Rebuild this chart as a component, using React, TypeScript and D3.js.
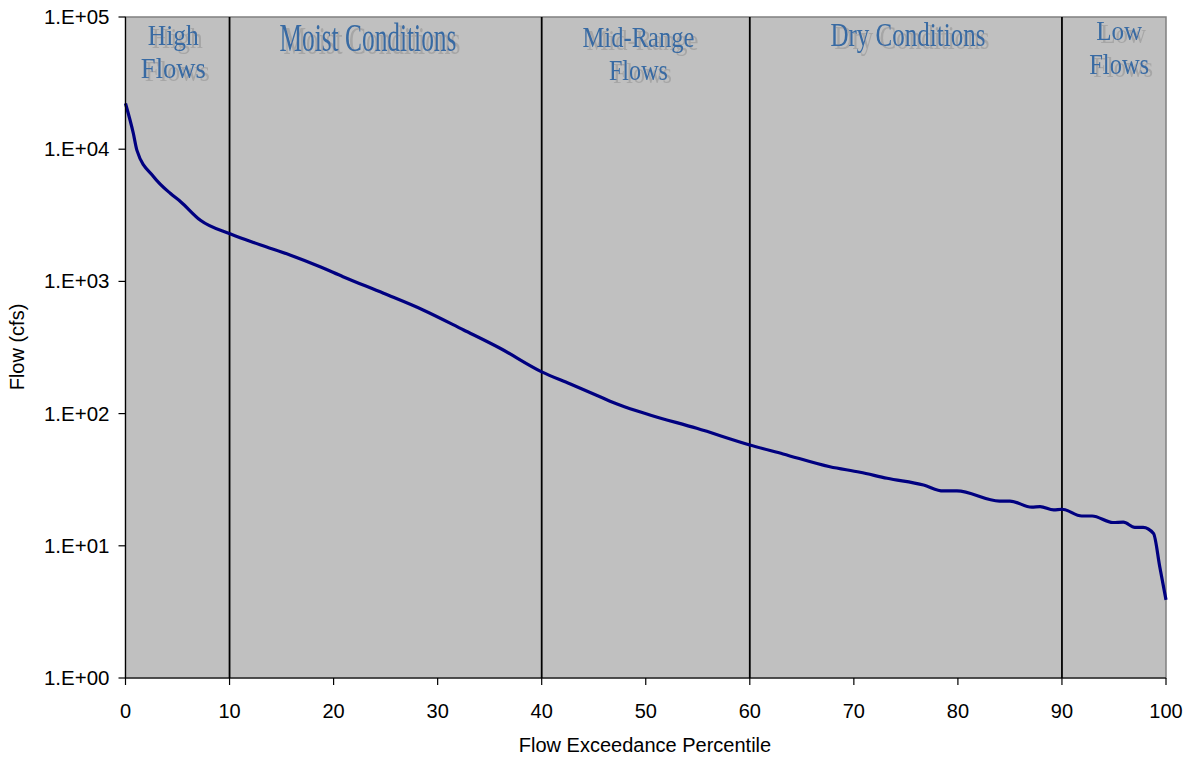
import React from "react";
import * as d3 from "d3";

// Flow duration curve data (percentile, flow in cfs)
const percentiles = [0, 0.75, 1.1, 2.7, 4.3, 5.3, 7.2, 10.1, 13, 15.8, 18.7, 20.9, 24.8, 28.6, 32.5, 36, 40, 42.7, 45.6, 47.5, 50.4, 54.9, 60, 63.2, 67.7, 70.6, 73.2, 76.7, 78.6, 79.9, 84, 85, 87.1, 87.9, 89.2, 90, 91.9, 92.9, 94.9, 95.9, 97, 97.8, 98.8, 99.4, 100];
const flows = [22200, 13200, 9800, 6200, 4640, 4010, 2900, 2280, 1885, 1585, 1290, 1086, 813, 608, 429, 312, 207, 168, 134, 116, 97.6, 77.4, 57.9, 49.5, 39.6, 36, 32.4, 28.8, 26, 26, 21.8, 21.8, 19.6, 19.8, 18.7, 18.9, 16.8, 16.8, 15.0, 15.1, 13.8, 13.8, 12.4, 6.95, 3.9];

const zoneBoundaries = [10, 40, 60, 90];
const xTicks = [0, 10, 20, 30, 40, 50, 60, 70, 80, 90, 100];
const yTicks = [1, 10, 100, 1000, 10000, 100000];
const yTickLabels = ["1.E+00", "1.E+01", "1.E+02", "1.E+03", "1.E+04", "1.E+05"];
const zoneNames = [["High", "Flows"], ["Moist Conditions"], ["Mid-Range", "Flows"], ["Dry Conditions"], ["Low", "Flows"]];

// layout for zone labels (pct center, baseline, font size, text width)
const zoneLayout = [
  [{ c: 4.6, b: 45, fs: 29.5, w: 51 }, { c: 4.6, b: 78, fs: 29.5, w: 65 }],
  [{ c: 23.3, b: 51, fs: 40, w: 177 }],
  [{ c: 49.3, b: 47, fs: 29, w: 112 }, { c: 49.3, b: 80, fs: 29, w: 59 }],
  [{ c: 75.2, b: 45.5, fs: 33, w: 155 }],
  [{ c: 95.5, b: 40, fs: 28, w: 46 }, { c: 95.5, b: 73.5, fs: 30, w: 60 }],
];

const W = 1192, H = 761;
const L = 125.5, R = 1166, T = 17, B = 678;

export default function App() {
  const x = d3.scaleLinear().domain([0, 100]).range([L, R]);
  const y = d3.scaleLog().domain([1, 100000]).range([B, T]);
  const pts: [number, number][] = percentiles.map((p, i) => [p, flows[i]]);
  const line = d3.line<[number, number]>().x(d => x(d[0])).y(d => y(d[1])).curve(d3.curveMonotoneX);
  const axisFont = "Liberation Sans, Arial, sans-serif";
  const serif = "Liberation Serif, Times New Roman, serif";
  return (
    <svg width={W} height={H} style={{ position: "absolute", left: 0, top: 0, background: "#fff" }}>
      <defs>
        <filter id="shadow" x="-20%" y="-30%" width="150%" height="180%">
          <feOffset in="SourceAlpha" dx={4} dy={3} result="off" />
          <feFlood floodColor="#a6a6a6" result="col" />
          <feComposite in="col" in2="off" operator="in" result="sh" />
          <feMerge>
            <feMergeNode in="sh" />
            <feMergeNode in="SourceGraphic" />
          </feMerge>
        </filter>
      </defs>
      <rect x={L} y={T} width={R - L} height={B - T} fill="#c0c0c0" stroke="#808080" strokeWidth={1.5} />
      {zoneNames.map((lines, zi) =>
        lines.map((t, li) => {
          const lay = zoneLayout[zi][li];
          return (
            <text key={zi + "-" + li} x={x(lay.c)} y={lay.b} fontFamily={serif} fontSize={lay.fs} fill="#386ba3" textAnchor="middle" textLength={lay.w} lengthAdjust="spacingAndGlyphs" filter="url(#shadow)">{t}</text>
          );
        })
      )}
      {zoneBoundaries.map(b => (
        <line key={b} x1={x(b)} x2={x(b)} y1={T} y2={B} stroke="#000" strokeWidth={1.8} />
      ))}
      <path d={line(pts) || ""} fill="none" stroke="#000080" strokeWidth={3.2} strokeLinejoin="round" />
      {/* axes */}
      <line x1={L} x2={L} y1={T} y2={B} stroke="#000" strokeWidth={1.2} />
      <line x1={L} x2={R} y1={B} y2={B} stroke="#000" strokeWidth={1.2} />
      {yTicks.map((v, i) => (
        <g key={v}>
          <line x1={L - 7} x2={L} y1={y(v)} y2={y(v)} stroke="#000" strokeWidth={1.2} />
          <text x={L - 16} y={y(v) + 7} fontFamily={axisFont} fontSize={20.5} textAnchor="end" fill="#000">{yTickLabels[i]}</text>
        </g>
      ))}
      {xTicks.map(v => (
        <g key={v}>
          <line x1={x(v)} x2={x(v)} y1={B} y2={B + 7} stroke="#000" strokeWidth={1.2} />
          <text x={x(v)} y={B + 40} fontFamily={axisFont} fontSize={20} textAnchor="middle" fill="#000">{v}</text>
        </g>
      ))}
      <text x={645} y={752} fontFamily={axisFont} fontSize={20} textAnchor="middle" fill="#000">Flow Exceedance Percentile</text>
      <text transform={`translate(24,347) rotate(-90)`} fontFamily={axisFont} fontSize={20} textAnchor="middle" fill="#000">Flow (cfs)</text>
    </svg>
  );
}
